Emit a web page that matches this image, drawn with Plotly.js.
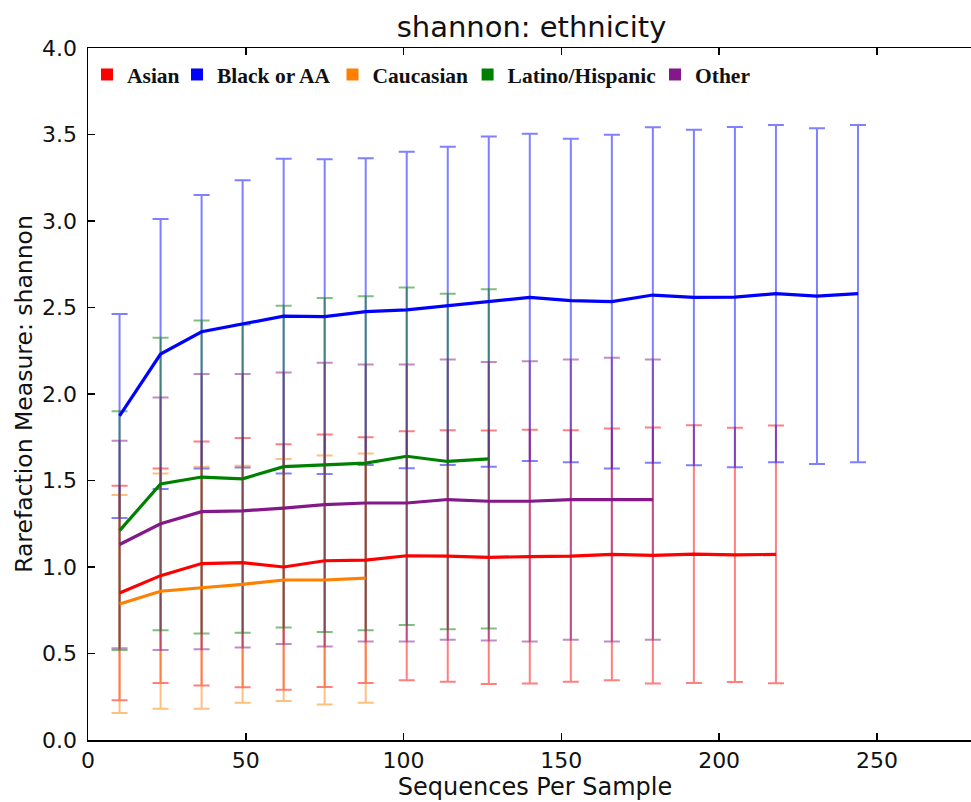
<!DOCTYPE html>
<html>
<head>
<meta charset="utf-8">
<script src="https://cdn.plot.ly/plotly-3.0.1.min.js"></script>
<style>
html,body{margin:0;padding:0;overflow:hidden;background:#fff;}
#chart{width:1000px;height:802px;}
</style>
</head>
<body>
<div id="chart"></div>
<script>
// Sequences per sample (rarefaction depths)
const depths = [10,23,36,49,62,75,88,101,114,127,140,153,166,179,192,205,218,231,244];

const groups = ["Asian","Black or AA","Caucasian","Latino/Hispanic","Other"];
const colors = ["#ff0000","#0000ff","#ff8000","#008000","#84188a"];
const barColors = ["rgba(255,0,0,0.5)","rgba(0,0,255,0.5)","rgba(255,128,0,0.5)","rgba(0,128,0,0.5)","rgba(132,24,138,0.5)"];

// mean shannon per depth
const asianMean  = [0.85,0.95,1.02,1.025,1.00,1.036,1.04,1.065,1.063,1.056,1.06,1.063,1.073,1.067,1.075,1.07,1.073];
const blackMean  = [1.873,2.231,2.36,2.405,2.45,2.447,2.476,2.486,2.509,2.534,2.558,2.54,2.534,2.572,2.558,2.56,2.58,2.566,2.58];
const caucMean   = [0.786,0.86,0.88,0.90,0.925,0.925,0.936];
const latinoMean = [1.21,1.48,1.52,1.51,1.58,1.59,1.60,1.64,1.61,1.625];
const otherMean  = [1.13,1.25,1.32,1.325,1.34,1.36,1.37,1.37,1.39,1.38,1.38,1.39,1.39,1.39];

// standard deviation per depth
const asianStd  = [0.62,0.62,0.705,0.72,0.71,0.73,0.71,0.72,0.727,0.733,0.733,0.727,0.727,0.74,0.745,0.735,0.745];
const blackStd  = [0.59,0.78,0.79,0.83,0.91,0.91,0.887,0.915,0.92,0.955,0.946,0.935,0.965,0.97,0.97,0.983,0.975,0.97,0.975];
const caucStd   = [0.63,0.68,0.70,0.685,0.70,0.72,0.72];
const latinoStd = [0.69,0.845,0.905,0.89,0.93,0.965,0.965,0.975,0.97,0.98];
const otherStd  = [0.60,0.73,0.795,0.79,0.785,0.82,0.80,0.80,0.81,0.805,0.81,0.81,0.82,0.81];

const means = [asianMean, blackMean, caucMean, latinoMean, otherMean];
const stds  = [asianStd, blackStd, caucStd, latinoStd, otherStd];

// figure geometry (pixels)
const W = 1000, H = 802, ML = 88, MR = 18, MT = 48, MB = 62;
const plotW = W - ML - MR;
const xMax = 283.3;
// left edge (px) of each legend entry's text, one legend box per entry
const legendTextLeft = [127, 217, 372.5, 507.6, 695];

const traces = [];
// error bars first (below all lines)
groups.forEach((g,i)=>{
  traces.push({
    type:'scatter', mode:'markers',
    x: depths.slice(0, means[i].length), y: means[i],
    marker:{size:1, opacity:0, color:colors[i]},
    error_y:{type:'data', array:stds[i], visible:true, color:barColors[i], thickness:2, width:8},
    showlegend:false, hoverinfo:'skip'
  });
});
// mean lines
groups.forEach((g,i)=>{
  traces.push({
    type:'scatter', mode:'lines',
    x: depths.slice(0, means[i].length), y: means[i],
    line:{color:colors[i], width:3.2},
    showlegend:false, name:g
  });
});
// legend entries (each in its own legend box)
groups.forEach((g,i)=>{
  traces.push({
    type:'scatter', mode:'markers', x:[null], y:[null], name:g,
    marker:{symbol:'square', size:12, color:colors[i]},
    showlegend:true, legend: i === 0 ? 'legend' : 'legend' + (i+1)
  });
});

const axisCommon = {
  showline:true, linecolor:'#000', linewidth:1.5, mirror:'ticks',
  ticks:'inside', ticklen:7, tickwidth:1.5, tickcolor:'#000',
  showgrid:false, zeroline:false,
  tickfont:{family:'DejaVu Sans', size:22, color:'#111'}
};

const layout = {
  width:W, height:H,
  margin:{l:ML, r:MR, t:MT, b:MB},
  paper_bgcolor:'#fff', plot_bgcolor:'#fff',
  font:{family:'DejaVu Sans', color:'#111'},
  title:{text:'shannon: ethnicity', font:{family:'DejaVu Sans', size:29, color:'#111'},
         xref:'container', x:531.5/W, xanchor:'center', yref:'container', y:1-27/H, yanchor:'middle'},
  xaxis:Object.assign({}, axisCommon, {
    range:[0,xMax], tickvals:[0,50,100,150,200,250], ticktext:['0','50','100','150','200','250'],
    title:{text:'Sequences Per Sample', font:{family:'DejaVu Sans', size:24, color:'#111'}, standoff:0}
  }),
  yaxis:Object.assign({}, axisCommon, {
    range:[0,4], tickvals:[0,0.5,1,1.5,2,2.5,3,3.5,4], tickformat:'.1f',
    ticklabelstandoff:5,
    title:{text:'Rarefaction Measure: shannon', font:{family:'DejaVu Sans', size:23.5, color:'#111'}, standoff:3}
  }),
  showlegend:true
};

legendTextLeft.forEach((t,i)=>{
  const key = i === 0 ? 'legend' : 'legend' + (i+1);
  layout[key] = {
    orientation:'h', x:(t - 40 - ML)/plotW, xanchor:'left', y:1 - 6/(H-MT-MB), yanchor:'top',
    bgcolor:'rgba(0,0,0,0)', itemwidth:30,
    font:{family:'Liberation Serif', size:21.5, weight:'bold', color:'#111'}
  };
});

Plotly.newPlot('chart', traces, layout, {displayModeBar:false, staticPlot:true});
</script>
</body>
</html>
